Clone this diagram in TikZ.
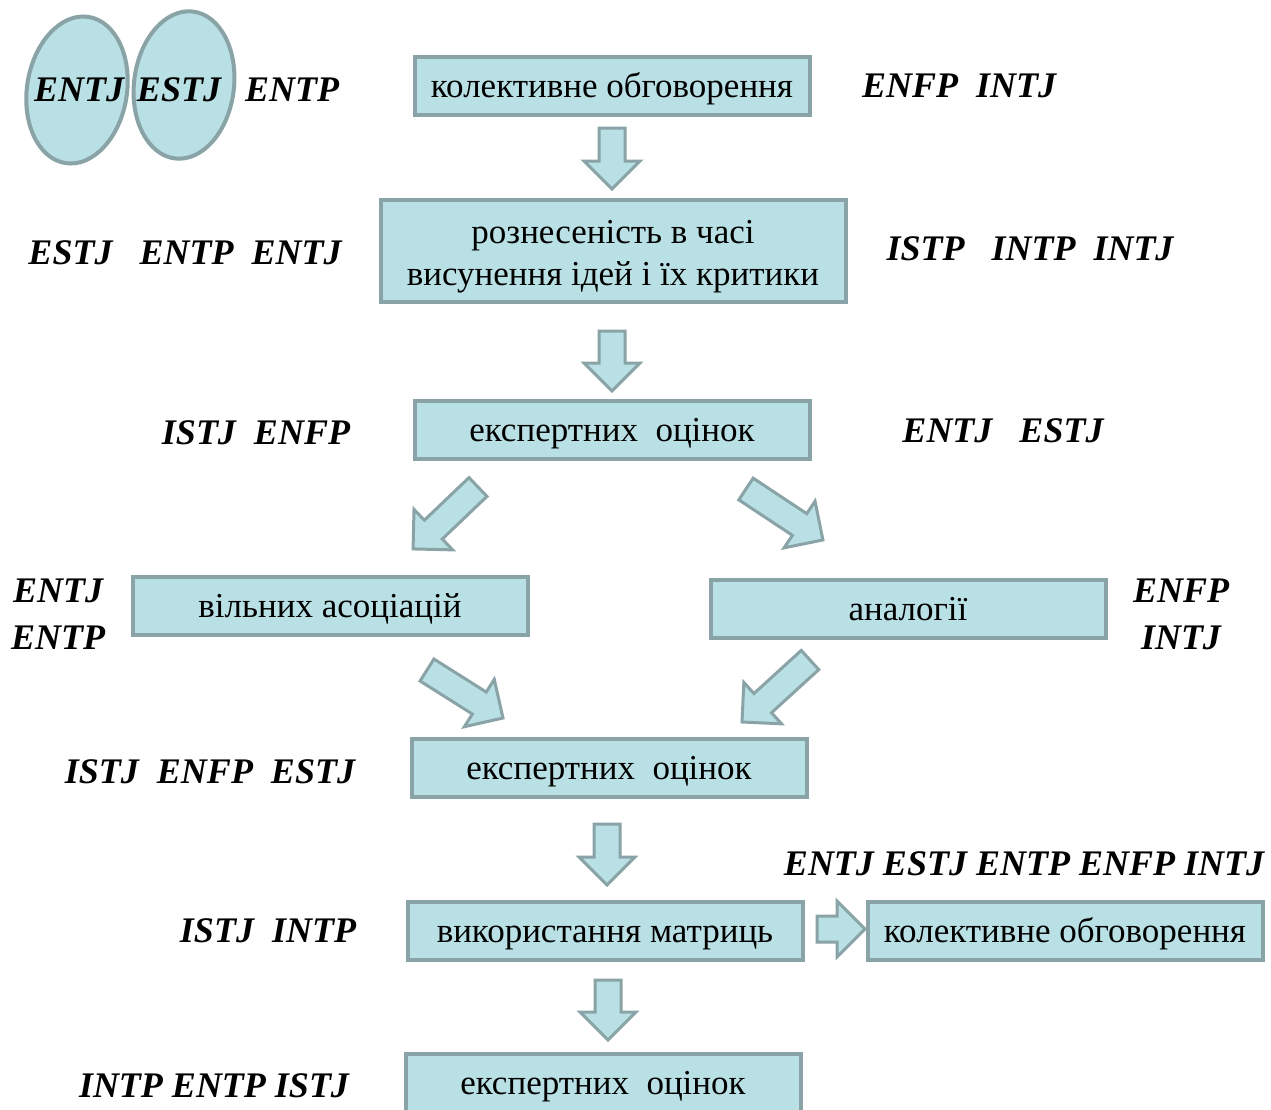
\documentclass[tikz,border=0pt]{standalone}
\usepackage{fontspec}
\setmainfont{Liberation Serif}
\usetikzlibrary{calc,shapes.geometric,shapes.arrows}
\definecolor{boxfill}{RGB}{185,224,228}
\definecolor{boxline}{RGB}{137,163,166}
\tikzset{
%Style for the boxes with the methods
method/.style={draw=boxline, fill=boxfill, line width=2pt,
  minimum width=197.5pt, minimum height=29pt, inner sep=2pt,
  text height=12pt, text depth=1pt,
  align=center, font=\fontsize{17.5}{21}\selectfont},
%Style for the personality types
mbti/.style={font=\fontsize{18}{23.5}\selectfont\bfseries\itshape,
  inner sep=0pt, align=center},
oval/.style={ellipse, draw=boxline, fill=boxfill, line width=2pt,
  minimum width=50pt, minimum height=74pt},
%Block arrows between the boxes
bigarrow/.style={single arrow, draw=boxline, fill=boxfill, line width=1.5pt,
  single arrow head extend=7.5pt, inner xsep=0pt, inner ysep=5.75pt,
  outer sep=0pt, anchor=tail},
}
% block arrow from #1 to #2
\newcommand{\fatarrow}[2]{%
  \path let \p1=($(#2)-(#1)$), \n1={atan2(\y1,\x1)}, \n2={veclen(\x1,\y1)} in
    node[bigarrow, minimum height=\n2, rotate=\n1] at (#1) {};}

\begin{document}
\begin{tikzpicture}[x=0.5pt, y=-0.5pt]
    \clip (0,0) rectangle (1271,1110);
    % Ovals in the upper left corner
    \node[oval, rotate=-9] (ov1) at (77,90) {};
    \node[oval, rotate=-7] (ov2) at (184,85) {};

    % The methods
    \node[method] (kolekt) at (612,86) {колективне обговорення};
    \node[method, minimum width=232.5pt, minimum height=51pt,
      text height=, text depth=] (rozn) at (613,251)
      {\rule{0pt}{17pt}рознесеність в часі\\висунення ідей і їх критики};
    \node[method] (eksp1) at (612,430) {експертних~~оцінок};
    \node[method] (asoc) at (330,606) {вільних асоціацій};
    \node[method] (analog) at (908,609) {аналогії};
    \node[method] (eksp2) at (609,768) {експертних~~оцінок};
    \node[method] (matr) at (605,931) {використання матриць};
    \node[method] (kolekt2) at (1065,931) {колективне обговорення};
    \node[method] (eksp3) at (603,1083) {експертних~~оцінок};

    % The types
    \node[mbti] (t1) at (79,90) {ENTJ};
    \node[mbti] (t2) at (179,90) {ESTJ};
    \node[mbti] (t3) at (292,90) {ENTP};
    \node[mbti] (t4) at (959,86) {ENFP~~INTJ};
    \node[mbti] (t5) at (185,253) {ESTJ~~~ENTP~~ENTJ};
    \node[mbti] (t6) at (1030,249) {ISTP~~~INTP~~INTJ};
    \node[mbti] (t7) at (256,433) {ISTJ~~ENFP};
    \node[mbti] (t8) at (1003,431) {ENTJ~~~ESTJ};
    \node[mbti] (t9) at (58,614) {ENTJ\\ENTP};
    \node[mbti] (t10) at (1181,614) {ENFP\\INTJ};
    \node[mbti] (t11) at (210,772) {ISTJ~~ENFP~~ESTJ};
    \node[mbti] (t12) at (1024,864) {ENTJ ESTJ ENTP ENFP INTJ};
    \node[mbti] (t13) at (268,931) {ISTJ~~INTP};
    \node[mbti] (t14) at (214,1086) {INTP ENTP ISTJ};

    % Let us define the ends of the arrows
    \path
    coordinate (a1s) at (612,128) coordinate (a1e) at (612,189)
    coordinate (a2s) at (612,331) coordinate (a2e) at (612,391)
    coordinate (a3s) at (478,487) coordinate (a3e) at (413,549)
    coordinate (a4s) at (746,489) coordinate (a4e) at (823,540)
    coordinate (a5s) at (427,670) coordinate (a5e) at (503,718)
    coordinate (a6s) at (810,660) coordinate (a6e) at (742,722)
    coordinate (a7s) at (607,824) coordinate (a7e) at (607,885)
    coordinate (a8s) at (817,929) coordinate (a8e) at (865,929)
    coordinate (a9s) at (608,980) coordinate (a9e) at (608,1040);

    % Draw the arrows
    \fatarrow{a1s}{a1e}
    \fatarrow{a2s}{a2e}
    \fatarrow{a3s}{a3e}
    \fatarrow{a4s}{a4e}
    \fatarrow{a5s}{a5e}
    \fatarrow{a6s}{a6e}
    \fatarrow{a7s}{a7e}
    \fatarrow{a8s}{a8e}
    \fatarrow{a9s}{a9e}
\end{tikzpicture}
\end{document}
